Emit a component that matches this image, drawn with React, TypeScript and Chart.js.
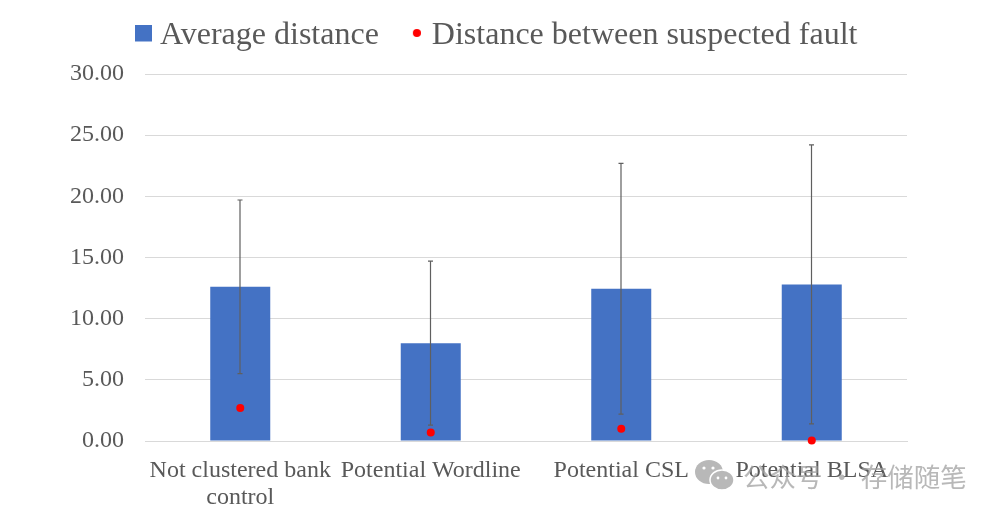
import React, { useEffect, useRef } from "react";
import { Chart, registerables } from "chart.js";

Chart.register(...registerables);

const categories = [["Not clustered bank", "control"], "Potential Wordline", "Potential CSL", "Potential BLSA"];
const averageDistance = [12.6, 8.0, 12.45, 12.8];
const suspectedFaultDistance = [2.7, 0.7, 1.0, 0.05];
const errorUpper = [19.7, 14.7, 22.7, 24.2];
const errorLower = [5.5, 1.3, 2.2, 1.4];
const yTicks = ["0.00", "5.00", "10.00", "15.00", "20.00", "25.00", "30.00"];

const SERIF = "'Liberation Serif', 'Times New Roman', serif";
const TEXT = "#595959";

// Legend markers are images centred on the legend's anchor; the blank margins nudge them into place.
function marker(kind: "square" | "dot", size: number, color: string, leftMargin: number, bottomMargin: number) {
  const c = document.createElement("canvas");
  c.width = size + leftMargin;
  c.height = size + bottomMargin;
  const g = c.getContext("2d")!;
  g.fillStyle = color;
  if (kind === "square") g.fillRect(leftMargin, 0, size, size);
  else {
    g.beginPath();
    g.arc(leftMargin + size / 2, size / 2, size / 2, 0, Math.PI * 2);
    g.fill();
  }
  return c;
}

const errorBars = {
  id: "errorBars",
  beforeDatasetDraw(chart: any, args: any) {
    if (args.index !== 1) return;
    const { ctx, scales } = chart;
    ctx.save();
    ctx.strokeStyle = "#5f5f5f";
    ctx.lineWidth = 1.2;
    errorUpper.forEach((up, i) => {
      const x = scales.x.getPixelForValue(i) - 0.25;
      const y1 = scales.y.getPixelForValue(up);
      const y2 = scales.y.getPixelForValue(errorLower[i]);
      ctx.beginPath();
      ctx.moveTo(x, y1);
      ctx.lineTo(x, y2);
      ctx.moveTo(x - 2.5, y1);
      ctx.lineTo(x + 2.5, y1);
      ctx.moveTo(x - 2.5, y2);
      ctx.lineTo(x + 2.5, y2);
      ctx.stroke();
    });
    ctx.restore();
  },
};

const LEGEND_PAD = 35;
const legendPlacer = {
  id: "legendPlacer",
  afterUpdate(chart: any) {
    const l = chart.legend;
    l.left = 107;
    l.right = 998;
    l.top = -15;
    l.bottom = 120;
    l.width = l.right - l.left;
    l.height = l.bottom - l.top;
  },
};

export default function App() {
  const ref = useRef<HTMLCanvasElement>(null);

  useEffect(() => {
    document.body.style.margin = "0";
    const square = marker("square", 17, "#4472c4", 0, 6);
    const dot = marker("dot", 8, "#ff0000", 4, 6);
    const chart = new Chart(ref.current!, {
      type: "bar",
      plugins: [errorBars, legendPlacer],
      data: {
        labels: categories as any,
        datasets: [
          {
            type: "bar",
            label: "Average distance",
            data: averageDistance,
            backgroundColor: "#4472c4",
            categoryPercentage: 1,
            barPercentage: 0.315,
            order: 2,
          },
          {
            type: "line",
            label: "Distance between suspected fault",
            data: suspectedFaultDistance,
            showLine: false,
            pointRadius: 4,
            pointHoverRadius: 4,
            pointBackgroundColor: "#ff0000",
            pointBorderWidth: 0,
            order: 1,
            clip: false,
          },
        ],
      } as any,
      options: {
        responsive: false,
        animation: false,
        layout: { padding: { left: 0, right: 91, top: -3, bottom: 0 } },
        plugins: {
          tooltip: { enabled: false },
          legend: {
            display: true,
            position: "top",
            align: "start",
            labels: {
              font: { family: SERIF, size: 32 },
              color: TEXT,
              usePointStyle: true,
              boxWidth: 2,
              boxHeight: 17,
              padding: LEGEND_PAD,
              generateLabels: () => [
                { text: "Average distance", pointStyle: square, fillStyle: "#4472c4", strokeStyle: "#4472c4", lineWidth: 0, fontColor: TEXT, datasetIndex: 0 },
                { text: "Distance between suspected fault", pointStyle: dot, fillStyle: "#ff0000", strokeStyle: "#ff0000", lineWidth: 0, fontColor: TEXT, datasetIndex: 1 },
              ],
            },
          },
        },
        scales: {
          x: {
            grid: { display: false },
            border: { color: "#d9d9d9" },
            ticks: { font: { family: SERIF, size: 24, lineHeight: 1.13 }, color: TEXT, padding: 8, maxRotation: 0, autoSkip: false } as any,
            afterFit(s: any) { s.height = 75; },
          },
          y: {
            min: 0,
            max: 30,
            grid: { color: "#d9d9d9", drawTicks: false },
            border: { display: false },
            afterBuildTicks(s: any) { s.ticks = yTicks.map((t) => ({ value: Number(t) })); },
            ticks: {
              font: { family: SERIF, size: 24 },
              color: TEXT,
              padding: 21,
              callback: (v: any) => Number(v).toFixed(2),
            },
            afterFit(s: any) { s.width = 145; },
          },
        },
      } as any,
    });
    return () => chart.destroy();
  }, []);

  return (
    <div style={{ position: "relative", width: 998, height: 516, background: "#fff", overflow: "hidden" }}>
      <canvas ref={ref} width={998} height={516} style={{ position: "absolute", left: 0, top: 0, display: "block" }} />
      <svg width={42} height={34} style={{ position: "absolute", left: 694, top: 459 }}>
        <ellipse cx={15} cy={13} rx={14} ry={12} fill="#b8b8b8" />
        <ellipse cx={28} cy={21} rx={12} ry={10} fill="#b8b8b8" stroke="#fff" strokeWidth={1.5} />
        <circle cx={10} cy={9} r={1.6} fill="#fff" />
        <circle cx={19} cy={9} r={1.6} fill="#fff" />
        <circle cx={24} cy={19} r={1.4} fill="#fff" />
        <circle cx={32} cy={19} r={1.4} fill="#fff" />
      </svg>
      <div
        style={{
          position: "absolute",
          left: 743,
          top: 459,
          fontFamily: "'Noto Sans CJK SC'",
          fontSize: 26.5,
          lineHeight: "34px",
          color: "rgba(160,160,160,0.75)",
          whiteSpace: "pre",
        }}
      >
        公众号 · 存储随笔
      </div>
    </div>
  );
}
